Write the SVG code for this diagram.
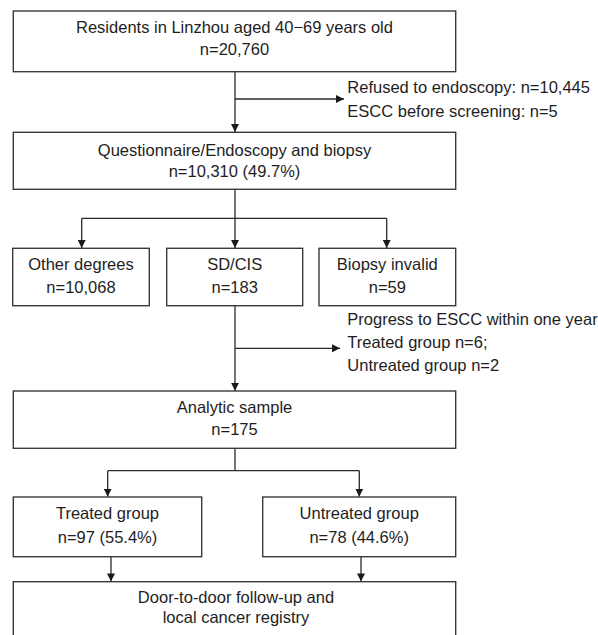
<svg xmlns="http://www.w3.org/2000/svg" width="598" height="635" viewBox="0 0 598 635">
<defs>
<style>
.box{fill:#fff;stroke:#3a3a3a;stroke-width:1.4}
.t{font-family:"Liberation Sans",Arial,sans-serif;font-size:16.5px;fill:#1e1e1e}
.c{text-anchor:middle}
.ln{fill:none;stroke:#2a2a2a;stroke-width:1.3}
</style>
<marker id="ah" viewBox="0 0 8 8" refX="8" refY="4" markerWidth="8" markerHeight="8" markerUnits="userSpaceOnUse" orient="auto">
<path d="M0,0 L8,4 L0,8 z" fill="#1a1a1a"/>
</marker>
</defs>
<rect width="598" height="635" fill="#fff"/>
<g id="connectors">
<path class="ln" d="M235,71.7 V132" marker-end="url(#ah)"/>
<path class="ln" d="M235,99 H344" marker-end="url(#ah)"/>
<path class="ln" d="M235,189.3 V218.3"/>
<path class="ln" d="M81.7,218.3 H386.7"/>
<path class="ln" d="M81.7,218.3 V248" marker-end="url(#ah)"/>
<path class="ln" d="M235,218.3 V248" marker-end="url(#ah)"/>
<path class="ln" d="M386.7,218.3 V248" marker-end="url(#ah)"/>
<path class="ln" d="M235,305.7 V390.7" marker-end="url(#ah)"/>
<path class="ln" d="M235,348.3 H340" marker-end="url(#ah)"/>
<path class="ln" d="M235,448.3 V470.7"/>
<path class="ln" d="M107.7,470.7 H359.3"/>
<path class="ln" d="M107.7,470.7 V496.7" marker-end="url(#ah)"/>
<path class="ln" d="M359.3,470.7 V496.7" marker-end="url(#ah)"/>
<path class="ln" d="M111,556.7 V581.4" marker-end="url(#ah)"/>
<path class="ln" d="M361,556.7 V581.4" marker-end="url(#ah)"/>
</g>
<g id="n_residents">
<rect class="box" x="13.3" y="11" width="442.4" height="60.7"/>
<text class="t c" x="234.5" y="33.3">Residents in Linzhou aged 40−69 years old</text>
<text class="t c" x="234.5" y="55">n=20,760</text>
</g>
<g id="n_excluded1">
<text class="t" x="347.3" y="93.3">Refused to endoscopy: n=10,445</text>
<text class="t" x="347.3" y="116.7">ESCC before screening: n=5</text>
</g>
<g id="n_questionnaire">
<rect class="box" x="13.3" y="132.3" width="442.4" height="57"/>
<text class="t c" x="234.5" y="155.7">Questionnaire/Endoscopy and biopsy</text>
<text class="t c" x="234.5" y="176.7">n=10,310 (49.7%)</text>
</g>
<g id="n_other">
<rect class="box" x="12.7" y="248.3" width="136.6" height="57.4"/>
<text class="t c" x="81" y="270.3">Other degrees</text>
<text class="t c" x="81" y="293">n=10,068</text>
</g>
<g id="n_sdcis">
<rect class="box" x="166.7" y="248.3" width="136" height="57.4"/>
<text class="t c" x="234.7" y="270.3">SD/CIS</text>
<text class="t c" x="234.7" y="293">n=183</text>
</g>
<g id="n_biopsy">
<rect class="box" x="319" y="248.3" width="136.7" height="57.4"/>
<text class="t c" x="387.3" y="270.3">Biopsy invalid</text>
<text class="t c" x="387.3" y="293">n=59</text>
</g>
<g id="n_excluded2">
<text class="t" x="347.3" y="325">Progress to ESCC within one year</text>
<text class="t" x="347.3" y="348">Treated group n=6;</text>
<text class="t" x="347.3" y="370.5">Untreated group n=2</text>
</g>
<g id="n_analytic">
<rect class="box" x="13.3" y="391" width="442.4" height="57.3"/>
<text class="t c" x="234.5" y="413.3">Analytic sample</text>
<text class="t c" x="234.5" y="435">n=175</text>
</g>
<g id="n_treated">
<rect class="box" x="13.3" y="497" width="188.4" height="59.7"/>
<text class="t c" x="107.5" y="519.3">Treated group</text>
<text class="t c" x="107.5" y="543">n=97 (55.4%)</text>
</g>
<g id="n_untreated">
<rect class="box" x="262.7" y="497" width="193" height="59.7"/>
<text class="t c" x="359.2" y="519.3">Untreated group</text>
<text class="t c" x="359.2" y="543">n=78 (44.6%)</text>
</g>
<g id="n_followup">
<rect class="box" x="13.3" y="581.7" width="442.4" height="70"/>
<text class="t c" x="236" y="603.3">Door-to-door follow-up and</text>
<text class="t c" x="236" y="623.3">local cancer registry</text>
</g>
</svg>
